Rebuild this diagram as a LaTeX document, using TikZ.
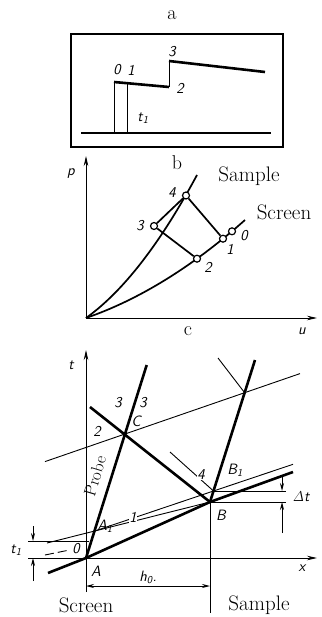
\documentclass[tikz,border=0pt]{standalone}
\usetikzlibrary{arrows.meta}
\begin{document}
\begin{tikzpicture}[x=1pt,y=-1pt,
  ln/.style={line width=0.9pt},
  med/.style={line width=1.7pt},
  bold/.style={line width=2.6pt},
  lab/.style={font=\fontsize{15}{15}\selectfont\sffamily\slshape, inner sep=0.5pt},
  ttl/.style={font=\fontsize{20}{20}\selectfont, inner sep=0pt},
  word/.style={font=\fontsize{21}{21}\selectfont, inner sep=0pt},
  pt/.style={circle, draw, line width=1.2pt, fill=white, minimum size=7pt, inner sep=0pt},
  axarrow/.style={-{Stealth[length=10pt,width=4.5pt]}},
  dimarrow/.style={-{Stealth[length=8pt,width=4pt]}}]
\useasboundingbox (0,0) rectangle (321,617);

% ---------------- part a ----------------
\node[ttl] (ta) at (172,15) {a};
\node[draw, line width=1.5pt, minimum width=212pt, minimum height=113pt, inner sep=0pt] (boxa) at (177,90.5) {};
\coordinate (b0) at (81,133);
\coordinate (bA) at (114,133);
\coordinate (bB) at (127,133);
\coordinate (bE) at (271,133);
\coordinate (a0) at (114,82);
\coordinate (a1) at (127,83.3);
\coordinate (a2) at (169,87);
\coordinate (a2t) at (169,61);
\coordinate (a4) at (265,72);
\draw[bold] (b0) -- (bA);
\draw[line width=1.3pt] (bA) -- (bE);
\draw[ln] (bA) -- (a0);
\draw[ln] (bB) -- (a1);
\draw[bold] (a0) -- (a2);
\draw[ln] (a2) -- (a2t);
\draw[bold] (a2t) -- (a4);
\node[lab] (la0) at (117,70) {0};
\node[lab] (la1) at (131,70) {1};
\node[lab] (la3) at (172,52) {3};
\node[lab] (la2) at (180,88) {2};
\node[lab] (lat) at (143,118) {t\textsubscript{1}};

% ---------------- part b ----------------
\node[ttl] (tb) at (177,163) {b};
\coordinate (O) at (86,318);
\coordinate (ptop) at (86,156);
\coordinate (uend) at (317,318);
\coordinate (sampE) at (197,175);
\coordinate (scrE) at (245,220);
\draw[ln, axarrow] (O) -- (ptop);
\draw[ln, axarrow] (O) -- (uend);
\node[lab] (lp) at (71,174) {p};
\node[lab] (lu) at (302,331) {u};
\draw[med] (O) .. controls (123,291.5) and (160,243.9) .. (sampE);
\draw[med] (O) .. controls (139,299.7) and (192,267) .. (scrE);
\node[pt] (p4) at (186,195.5) {};
\node[pt] (p3) at (154,226) {};
\node[pt] (p2) at (197,258.7) {};
\node[pt] (p1) at (223,238.7) {};
\node[pt] (p0) at (232,231.3) {};
\draw[med] (p3) -- (p4);
\draw[med] (p4) -- (p1);
\draw[med] (p3) -- (p2);
\node[lab] (l4) at (172,193) {4};
\node[lab] (l3) at (140,226) {3};
\node[lab] (l2) at (208,267) {2};
\node[lab] (l1) at (230,249) {1};
\node[lab] (l0) at (244,236) {0};
\node[word] (sampb) at (249,176) {Sample};
\node[word] (scrb) at (284,212) {Screen};

% ---------------- part c ----------------
\node[ttl] (tc) at (188,331) {c};
\coordinate (A) at (86,558);
\coordinate (B) at (210,502);
\coordinate (C) at (125,434);
\coordinate (tTop) at (86,350);
\coordinate (tBot) at (86,592);
\coordinate (xL) at (28,558);
\coordinate (xR) at (317,558);
\coordinate (Pe) at (146.7,365);
\coordinate (Rs) at (90,407);
\coordinate (Ws) at (45,461.6);
\coordinate (We) at (300,373.6);
\coordinate (Qe) at (255,360);
\coordinate (Ts) at (48,573);
\coordinate (Te) at (293,472);
\coordinate (Us) at (47,543);
\coordinate (B1) at (213.5,491);
\coordinate (Ve) at (293,464.3);
\coordinate (D) at (intersection of B--Qe and Ws--We);
\coordinate (A1) at (intersection of A--Pe and Us--B);
\coordinate (Ks) at (218,358);
\coordinate (Fs) at (170,452);
\coordinate (Sb) at (210,613);

% axes
\draw[ln, axarrow] (tBot) -- (tTop);
\draw[ln, axarrow] (xL) -- (xR);
\node[lab] (lt) at (71,365) {t};
\node[lab] (lx) at (302,568) {x};

% thin lines
\draw[ln] (Ws) -- (We);
\draw[ln] (Ks) -- (D);
\draw[ln] (Fs) -- (B1);
\draw[ln] (A1) -- (B1) -- (Ve);
\draw[ln] (Us) -- (B);
\draw[ln, dash pattern=on 9pt off 4pt] (45,555) -- (67,550.5);
\draw[ln] (B) -- (Sb);

% thick lines
\draw[bold] (A) -- (Pe);
\draw[bold] (Rs) -- (B);
\draw[bold] (B) -- (Qe);
\draw[bold] (Ts) -- (A) -- (B) -- (Te);

% labels
\node[lab] (c3a) at (118,403) {3};
\node[lab] (c3b) at (143,403) {3};
\node[lab] (cC) at (136,421) {C};
\node[lab] (c2) at (97,431) {2};
\node[lab, fill=white] (c4) at (201,475) {4};
\node[lab] (cB1) at (235,470) {B\textsubscript{1}};
\node[lab] (cB) at (221,515) {B};
\node[lab] (cA) at (96,571) {A};
\node[lab] (cA1) at (105,526) {A\textsubscript{1}};
\node[lab, fill=white] (c1) at (133,517) {1};
\node[lab] (c0) at (76,549) {0};
\node[font=\fontsize{17}{17}\selectfont, inner sep=0pt, rotate=73] (probe) at (95,476) {Probe};

% t1 dimension
\coordinate (t1L) at (28,541);
\coordinate (t1R) at (89,541);
\draw[ln] (t1L) -- (t1R);
\draw[ln, dimarrow] (33,526) -- (33,541);
\draw[ln, dimarrow] (33,581) -- (33,558);
\node[lab] (lt1) at (16,550) {t\textsubscript{1}};

% Delta t dimension
\coordinate (dtA) at (286,491);
\coordinate (dtB) at (286,502);
\draw[ln] (B1) -- (dtA);
\draw[ln] (B) -- (dtB);
\draw[ln, dimarrow] (282,476) -- (282,491);
\draw[ln, dimarrow] (282,533) -- (282,502);
\node[lab] (ldt) at (301,497) {$\mathit{\Delta}$t};

% h0 dimension
\coordinate (hL) at (86,586);
\coordinate (hR) at (210,586);
\draw[ln, {Stealth[length=8pt,width=4pt]}-{Stealth[length=8pt,width=4pt]}] (hL) -- (hR);
\node[lab] (lh0) at (148,577) {h\textsubscript{0}.};

\node[word] (scrc) at (86,605) {Screen};
\node[word] (sampc) at (259,605) {Sample};
\end{tikzpicture}
\end{document}
